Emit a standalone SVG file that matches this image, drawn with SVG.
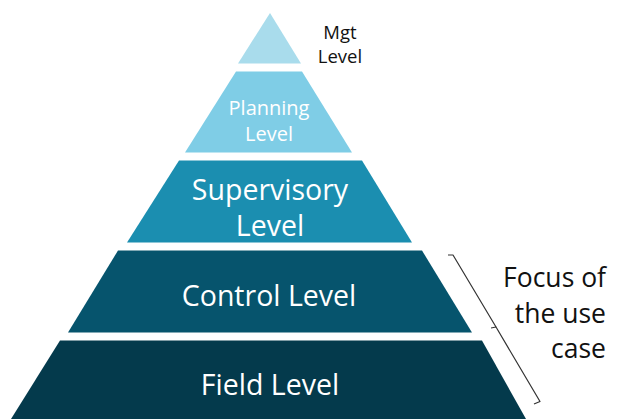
<svg xmlns="http://www.w3.org/2000/svg" width="618" height="419" viewBox="0 0 618 419">
<style>
.lbl{font-family:"Open Sans","Noto Sans",sans-serif;fill:#ffffff;text-anchor:middle}
.big{font-size:28.5px}
.mid{font-size:20px}
.dark{font-family:"Open Sans","Noto Sans",sans-serif;fill:#111111}
.brace{fill:none;stroke:#333333;stroke-width:1.2;stroke-linejoin:round}
</style>
<rect width="618" height="419" fill="#ffffff"/>
<g id="mgt-level">
<polygon points="270,13 301,63.5 238,63.5" fill="#a9dcec"/>
</g>
<g id="planning-level">
<polygon points="236,71.5 302,71.5 352,152.5 185,152.5" fill="#7fcde6"/>
<text class="lbl mid" x="269" y="115">Planning</text>
<text class="lbl mid" x="269" y="141">Level</text>
</g>
<g id="supervisory-level">
<polygon points="179,160.5 362,160.5 412,242.5 127,242.5" fill="#1b8eb0"/>
<text class="lbl big" x="270" y="200">Supervisory</text>
<text class="lbl big" x="270" y="236">Level</text>
</g>
<g id="control-level">
<polygon points="118,250.5 422,250.5 472,332.5 68,332.5" fill="#06546d"/>
<text class="lbl big" x="269" y="306">Control Level</text>
</g>
<g id="field-level">
<polygon points="60,340.5 482,340.5 526,419 11,419" fill="#043a4c"/>
<text class="lbl big" x="270" y="395">Field Level</text>
</g>
<g id="labels">
<text class="dark" font-size="18.5" text-anchor="middle" x="340" y="39">Mgt</text>
<text class="dark" font-size="18.5" text-anchor="middle" x="340" y="63">Level</text>
<text class="dark" font-size="26.5" text-anchor="end" x="606" y="287">Focus of</text>
<text class="dark" font-size="26.5" text-anchor="end" x="606" y="323">the use</text>
<text class="dark" font-size="26.5" text-anchor="end" x="606" y="358">case</text>
</g>
<g id="connectors">
<path class="brace" d="M448,255 L453,255 L496,327 L491,328 M496,327 L540,401.5 L534,404"/>
</g>
</svg>
